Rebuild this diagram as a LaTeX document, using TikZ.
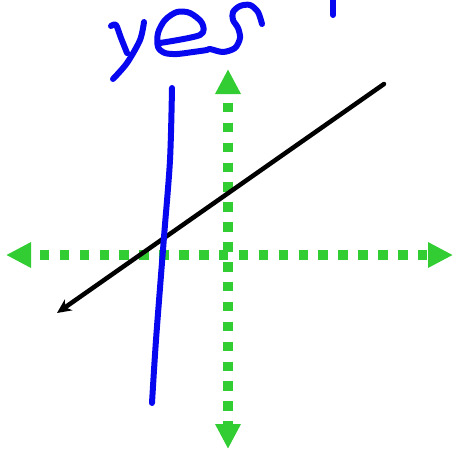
\documentclass[tikz,border=0pt]{standalone}
\usepackage{tikz}
\usetikzlibrary{arrows.meta}
\definecolor{axisgreen}{RGB}{50,205,50}
\definecolor{ink}{RGB}{8,8,240}

\begin{document}
\begin{tikzpicture}[x=1pt, y=-1pt,
  axis/.style={axisgreen, line width=9.5pt, dash pattern=on 9.5pt off 10.4pt,
               dash phase=9.5pt, >={Triangle[length=25pt,width=24pt]}, <->},
  ray/.style={black, line width=4.5pt, line cap=round,
              -{Stealth[length=14pt,width=13pt,inset=4pt]}},
  pen/.style={ink, line width=6pt, line cap=round, line join=round}]

  \useasboundingbox (0,0) rectangle (460,451);

  \coordinate (xl) at (6,255);
  \coordinate (xr) at (453,255);
  \coordinate (yt) at (228,69);
  \coordinate (yb) at (228,449);
  \coordinate (r1) at (384,84);
  \coordinate (r2) at (57,313);

  \draw[axis] (xl) -- (xr);
  \draw[axis] (yt) -- (yb);
  \draw[ray] (r1) -- (r2);

  % vertical line test
  \draw[pen] plot[smooth] coordinates {(172,88) (170,160) (164,237) (156,340) (152,403)};

  % yes
  \draw[pen] plot[smooth] coordinates {(111,26) (116,25) (121,38) (127,53)};
  \draw[pen] plot[smooth] coordinates {(144,22) (140,40) (127,63) (113,79)};
  \draw[pen] plot[smooth] coordinates {(160,43) (200,35) (202,23) (190,13) (177,12)
     (165,20) (158,33) (158,47) (165,53) (177,54) (193,52) (207,50) (210,49)
     (223,52) (235,48) (240,38) (238,28) (233,20) (233,12) (240,6) (250,5)
     (258,12) (262,24)};
  \draw[pen] (333,0) -- (333,15);
\end{tikzpicture}
\end{document}
